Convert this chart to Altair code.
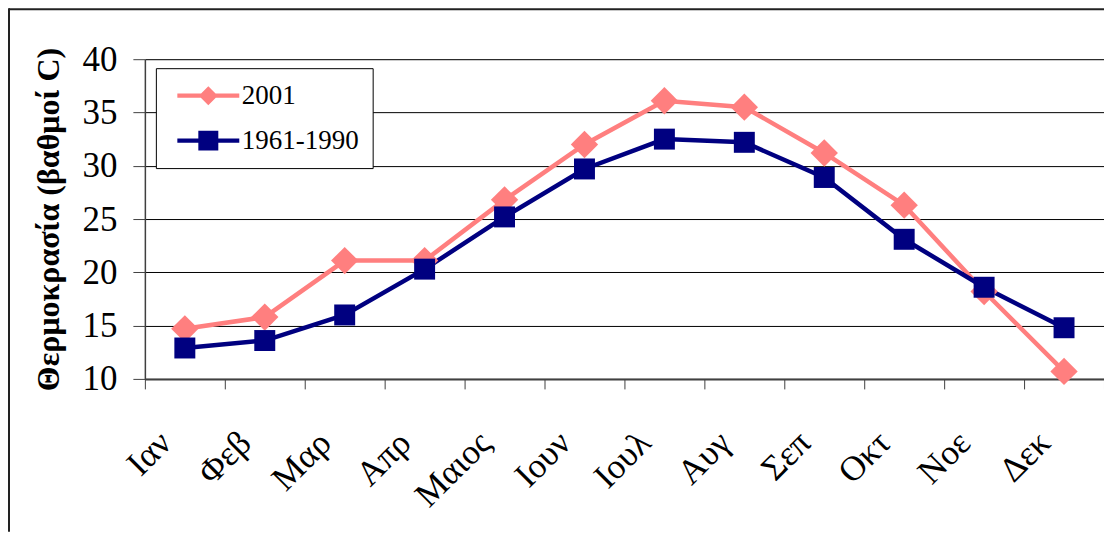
import altair as alt
import pandas as pd

months = ["Ιαν", "Φεβ", "Μαρ", "Απρ", "Μαιος", "Ιουν", "Ιουλ", "Αυγ", "Σεπ", "Οκτ", "Νοε", "Δεκ"]
series_names = ["2001", "1961-1990"]
t_2001 = [14.7, 15.8, 21.1, 21.1, 26.8, 32.0, 36.1, 35.5, 31.2, 26.3, 18.2, 10.7]
t_1961_1990 = [12.9, 13.6, 16.0, 20.3, 25.2, 29.7, 32.5, 32.2, 28.9, 23.1, 18.6, 14.8]
y_ticks = [10, 15, 20, 25, 30, 35, 40]
colors = ["#FF7F7F", "#000080"]

rows = []
for m, v in zip(months, t_2001):
    rows.append({"month": m, "series": series_names[0], "temp": v})
for m, v in zip(months, t_1961_1990):
    rows.append({"month": m, "series": series_names[1], "temp": v})
df = pd.DataFrame(rows)

FONT = "Liberation Serif"
W, H = 960, 320

P2001 = "M-3.1,-0.22H3.1V0.22H-3.1Z M0,-0.95L0.95,0L0,0.95L-0.95,0Z"
P6190 = "M-3.1,-0.22H3.1V0.22H-3.1Z M-1,-1H1V1H-1Z"

x_enc = alt.X(
    "month:N",
    sort=months,
    scale=alt.Scale(domain=months, paddingInner=0, paddingOuter=0),
    axis=alt.Axis(
        title=None,
        labelAngle=-45,
        labelAlign="right",
        labelBaseline="middle",
        labelFont=FONT,
        labelFontSize=35,
        labelColor="black",
        labelPadding=48,
        labelOffset=-20,
        tickBand="extent",
        tickSize=10,
        tickColor="#404040",
        domainColor="#404040",
        domainWidth=2,
        grid=False,
    ),
)
y_enc = alt.Y(
    "temp:Q",
    scale=alt.Scale(domain=[10, 40], nice=False, zero=False),
    axis=alt.Axis(
        values=y_ticks,
        title="Θερμοκρασία (βαθμοί C)",
        titleFont=FONT,
        titleFontSize=32,
        titleFontWeight="bold",
        titleColor="black",
        titleAngle=-90,
        titleX=-96,
        titleY=H / 2,
        titleAlign="center",
        titleBaseline="middle",
        labelFont=FONT,
        labelFontSize=35,
        labelColor="black",
        labelPadding=16,
        tickSize=12,
        tickColor="#404040",
        domainColor="#404040",
        domainWidth=1.5,
        grid=True,
        gridColor="black",
        gridWidth=1,
    ),
)

legend = alt.Legend(
    title=None,
    orient="none",
    legendX=11,
    legendY=9,
    fillColor="white",
    strokeColor="black",
    padding=14,
    labelFont=FONT,
    labelFontSize=27,
    labelColor="black",
    labelOffset=20,
    rowPadding=17,
    symbolSize=400,
    symbolOffset=25,
    symbolStrokeWidth=0,
    symbolOpacity=1,
)

color_enc = alt.Color("series:N", scale=alt.Scale(domain=series_names, range=colors), legend=legend)

base = alt.Chart(df)
lines = base.mark_line(strokeWidth=4.5).encode(x=x_enc, y=y_enc, color=color_enc)
pts_2001 = base.transform_filter(alt.datum.series == series_names[0]).mark_point(
    filled=True, size=750, opacity=1, shape="diamond", color=colors[0]
).encode(x=x_enc, y=y_enc)
pts_6190 = base.transform_filter(alt.datum.series == series_names[1]).mark_point(
    filled=True, size=440, opacity=1, shape="square", color=colors[1]
).encode(x=x_enc, y=y_enc)

legend_layer = base.transform_filter("false").mark_point(filled=True, opacity=1, size=400).encode(
    x=x_enc,
    y=y_enc,
    color=color_enc,
    shape=alt.Shape("series:N", scale=alt.Scale(domain=series_names, range=[P2001, P6190]), legend=legend),
)

frame_df = pd.DataFrame({"k": [0]})
frame_left = alt.Chart(frame_df).mark_rule(color="#222222", strokeWidth=2).encode(
    x=alt.value(-136), y=alt.value(-51), y2=alt.value(H + 153)
)
frame_top = alt.Chart(frame_df).mark_rule(color="#222222", strokeWidth=2).encode(
    x=alt.value(-136), x2=alt.value(W + 10), y=alt.value(-50)
)

chart = (
    alt.layer(frame_left, frame_top, lines, pts_2001, pts_6190, legend_layer)
    .properties(
        width=W,
        height=H,
        autosize="none",
        padding={"left": 137, "top": 51, "right": 0, "bottom": 153},
    )
    .configure_view(fill="#E8E8E8", stroke="#808080", strokeWidth=1.5)
    .configure(background="white")
)

chart.save("out.html", embed_options={"renderer": "svg", "actions": False})
